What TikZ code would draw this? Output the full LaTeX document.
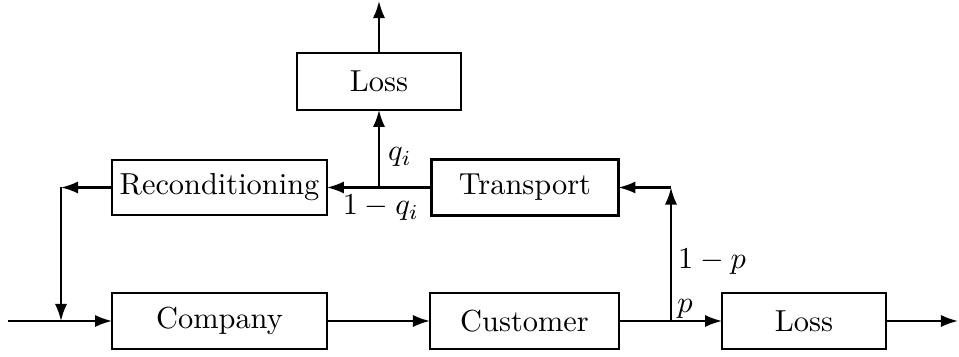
\documentclass[tikz,border=0pt]{standalone}
\usetikzlibrary{arrows.meta}
\begin{document}
\begin{tikzpicture}[x=0.329pt, y=-0.329pt,
  blk/.style={draw, line width=0.7pt, inner sep=0pt, outer sep=0pt},
  flow/.style={line width=0.7pt, -{Latex[length=5.6pt,width=4pt]}},
  lbl/.style={inner sep=0pt}]
  \useasboundingbox (0,0) rectangle (959,357);

  % blocks
  \node[blk, minimum width=53.9pt, minimum height=18.7pt] (lossT) at (379,81.5) {Loss};
  \node[blk, minimum width=70.7pt, minimum height=18.1pt] (recon) at (219.5,187.5) {Reconditioning};
  \node[blk, minimum width=61.5pt, minimum height=18.4pt] (trans) at (525,187.5) {Transport};
  \node[blk, minimum width=70.7pt, minimum height=18.4pt] (comp) at (219.5,321) {Company};
  \node[blk, minimum width=62.2pt, minimum height=18.4pt] (cust) at (524.5,321) {Customer};
  \node[blk, minimum width=53.9pt, minimum height=18.7pt] (lossR) at (804,321) {Loss};

  % branch and end points
  \coordinate (jq) at (379,187.5);
  \coordinate (jp) at (671,321);
  \coordinate (cp) at (671,187.5);
  \coordinate (cl) at (61,187.5);
  \coordinate (jl) at (61,321);
  \coordinate (inL) at (8,321);
  \coordinate (outT) at (379,1);
  \coordinate (outR) at (958,321);

  % connectors
  \draw[flow] (inL) -- (comp.west);
  \draw[flow] (comp.east) -- (cust.west);
  \draw[flow] (cust.east) -- (lossR.west);
  \draw[flow] (lossR.east) -- (outR);
  \draw[flow] (jp) -- (cp);
  \draw[flow] (cp) -- (trans.east);
  \draw[flow] (trans.west) -- (recon.east);
  \draw[flow] (jq) -- (lossT.south);
  \draw[flow] (lossT.north) -- (outT);
  \draw[flow] (recon.west) -- (cl);
  \draw[flow] (cl) -- (jl);

  % branch probabilities
  \node[lbl] (lq) at (400,157) {$q_i$};
  \node[lbl] (lnq) at (381,208) {$1-q_i$};
  \node[lbl] (lnp) at (712,262) {$1-p$};
  \node[lbl] (lp) at (685,309) {$p$};
\end{tikzpicture}
\end{document}
